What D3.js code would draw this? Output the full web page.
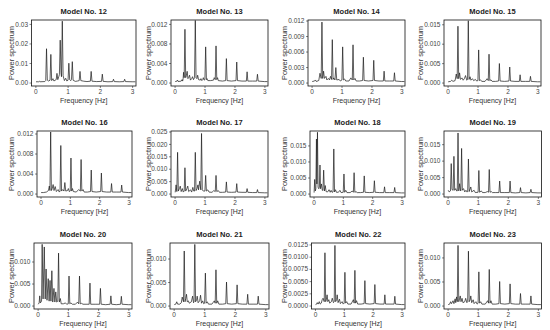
<!DOCTYPE html>
<html>
<head>
<meta charset="utf-8">
<script src="https://cdn.jsdelivr.net/npm/d3@7"></script>
<style>
  body { margin: 0; background: #fff; }
  text { font-family: "Liberation Sans", Arial, sans-serif; }
</style>
</head>
<body>
<div id="chart"></div>
<script>
const modelNames = ['Model No. 12', 'Model No. 13', 'Model No. 14', 'Model No. 15',
  'Model No. 16', 'Model No. 17', 'Model No. 18', 'Model No. 19',
  'Model No. 20', 'Model No. 21', 'Model No. 22', 'Model No. 23']
const freqTicks = [0, 1, 2, 3]

// spectra: [frequency Hz, power in units of 1e-3]
const spec12 = [[0.02,0.4],[0.10,0.4],[0.12,0.7],[0.14,0.4],[0.28,0.5],[0.30,0.6],[0.321,1.0],[0.346,17.3],[0.371,1.2],[0.41,0.8],[0.455,1.2],[0.48,14.4],[0.505,1.0],[0.545,2.0],[0.575,0.8],[0.615,1.2],[0.645,1.5],[0.67,4.7],[0.695,1.5],[0.725,3.0],[0.745,4.0],[0.77,21.7],[0.795,5.0],[0.81,3.0],[0.835,31.4],[0.86,3.5],[0.90,1.0],[0.94,2.2],[0.975,0.8],[1.013,1.2],[1.038,9.9],[1.063,1.5],[1.10,1.0],[1.12,1.5],[1.145,10.7],[1.17,1.2],[1.24,0.6],[1.31,0.8],[1.359,1.0],[1.384,5.7],[1.409,1.0],[1.50,0.7],[1.60,0.5],[1.705,0.7],[1.73,5.7],[1.755,0.7],[1.90,0.5],[2.051,0.6],[2.076,4.3],[2.101,0.6],[2.25,0.4],[2.397,0.5],[2.422,1.7],[2.447,0.5],[2.60,0.4],[2.743,0.5],[2.768,1.7],[2.793,0.5],[3.00,0.4],[3.10,0.4]]
const spec13 = [[0.02,0.2],[0.08,0.3],[0.10,0.5],[0.12,0.2],[0.22,0.3],[0.25,0.6],[0.27,0.3],[0.285,0.8],[0.30,2.1],[0.321,1.0],[0.346,10.9],[0.371,1.0],[0.395,1.5],[0.42,2.3],[0.445,0.8],[0.47,1.0],[0.50,1.5],[0.53,0.5],[0.57,0.8],[0.60,1.2],[0.63,0.6],[0.667,1.0],[0.692,12.7],[0.717,1.0],[0.745,0.8],[0.77,1.5],[0.80,0.6],[0.86,0.5],[0.88,0.8],[0.91,0.4],[0.94,0.6],[0.96,1.0],[0.99,0.5],[1.013,0.6],[1.038,7.3],[1.063,0.6],[1.085,0.8],[1.11,0.4],[1.20,0.4],[1.30,0.5],[1.325,1.0],[1.359,0.6],[1.384,7.5],[1.409,0.6],[1.435,1.0],[1.46,0.4],[1.60,0.3],[1.705,0.4],[1.73,4.9],[1.755,0.4],[1.90,0.3],[2.051,0.4],[2.076,4.2],[2.101,0.4],[2.25,0.3],[2.397,0.3],[2.422,2.2],[2.447,0.3],[2.60,0.3],[2.743,0.3],[2.768,1.7],[2.793,0.3],[3.00,0.2],[3.10,0.2]]
const spec14 = [[0.02,0.2],[0.10,0.3],[0.13,0.5],[0.16,0.2],[0.24,0.4],[0.28,1.8],[0.321,0.8],[0.346,11.7],[0.371,0.8],[0.40,2.2],[0.43,0.8],[0.48,1.2],[0.51,0.5],[0.56,0.8],[0.60,0.5],[0.63,1.2],[0.667,0.6],[0.692,8.3],[0.717,0.6],[0.74,0.9],[0.78,0.5],[0.81,2.9],[0.84,0.5],[0.92,0.6],[0.96,0.3],[1.013,0.5],[1.038,6.9],[1.063,0.5],[1.10,0.7],[1.14,0.3],[1.25,0.3],[1.31,0.9],[1.359,0.5],[1.384,7.3],[1.409,0.5],[1.45,0.8],[1.49,0.3],[1.60,0.3],[1.705,0.4],[1.73,4.9],[1.755,0.4],[1.90,0.3],[2.051,0.4],[2.076,4.3],[2.101,0.4],[2.25,0.3],[2.397,0.3],[2.422,2.2],[2.447,0.3],[2.60,0.3],[2.743,0.3],[2.768,1.9],[2.793,0.3],[3.00,0.2],[3.10,0.2]]
const spec15 = [[0.02,0.2],[0.10,0.3],[0.14,0.6],[0.18,0.3],[0.25,0.5],[0.29,2.2],[0.321,1.0],[0.346,14.5],[0.371,1.0],[0.40,2.5],[0.43,0.8],[0.48,1.2],[0.52,0.6],[0.56,1.0],[0.60,1.8],[0.64,0.6],[0.667,0.8],[0.692,15.9],[0.717,0.8],[0.75,1.5],[0.78,0.6],[0.83,1.0],[0.87,0.5],[0.93,0.8],[0.97,0.4],[1.013,0.5],[1.038,8.4],[1.063,0.5],[1.10,0.7],[1.14,0.3],[1.25,0.3],[1.32,1.0],[1.359,0.5],[1.384,7.3],[1.409,0.5],[1.45,0.7],[1.49,0.3],[1.60,0.3],[1.705,0.4],[1.73,4.9],[1.755,0.4],[1.90,0.3],[2.051,0.4],[2.076,4.0],[2.101,0.4],[2.25,0.3],[2.397,0.3],[2.422,2.0],[2.447,0.3],[2.60,0.3],[2.743,0.3],[2.768,1.6],[2.793,0.3],[3.00,0.2],[3.10,0.2]]
const spec16 = [[0.02,0.2],[0.10,0.2],[0.20,0.3],[0.27,0.6],[0.30,1.5],[0.321,0.6],[0.346,12.3],[0.371,0.6],[0.40,1.0],[0.43,1.8],[0.46,0.6],[0.50,1.4],[0.54,0.4],[0.60,0.8],[0.64,0.3],[0.667,0.5],[0.692,9.6],[0.717,0.5],[0.76,0.8],[0.80,0.5],[0.83,2.2],[0.86,0.5],[0.92,0.6],[0.95,1.0],[0.98,0.4],[1.013,0.5],[1.038,7.1],[1.063,0.5],[1.09,1.0],[1.12,0.4],[1.22,0.3],[1.30,0.8],[1.359,0.5],[1.384,6.8],[1.409,0.5],[1.45,0.8],[1.49,0.3],[1.60,0.3],[1.705,0.4],[1.73,4.7],[1.755,0.4],[1.90,0.3],[2.051,0.4],[2.076,4.1],[2.101,0.4],[2.25,0.3],[2.397,0.3],[2.422,2.0],[2.447,0.3],[2.60,0.3],[2.743,0.3],[2.768,1.7],[2.793,0.3],[3.00,0.2],[3.10,0.2]]
const spec17 = [[0.02,0.5],[0.05,3.5],[0.075,0.8],[0.10,16.6],[0.125,1.0],[0.16,2.0],[0.19,3.0],[0.22,0.8],[0.26,2.0],[0.29,0.6],[0.321,1.0],[0.346,10.4],[0.371,1.0],[0.41,2.0],[0.44,3.0],[0.47,0.8],[0.53,1.5],[0.57,0.6],[0.61,2.5],[0.64,1.0],[0.667,1.0],[0.692,16.6],[0.717,1.2],[0.75,2.0],[0.78,3.5],[0.80,1.5],[0.84,5.0],[0.875,1.5],[0.90,24.2],[0.925,1.5],[0.96,1.0],[1.013,1.0],[1.038,7.3],[1.063,1.0],[1.11,1.5],[1.15,0.6],[1.25,0.5],[1.31,1.2],[1.359,0.8],[1.384,7.3],[1.409,0.8],[1.46,1.2],[1.50,0.5],[1.60,0.5],[1.705,0.6],[1.73,4.7],[1.755,0.6],[1.90,0.5],[2.051,0.6],[2.076,4.0],[2.101,0.6],[2.25,0.5],[2.397,0.5],[2.422,2.0],[2.447,0.5],[2.60,0.4],[2.743,0.4],[2.768,1.6],[2.793,0.4],[3.00,0.3],[3.10,0.3]]
const spec18 = [[0.02,0.3],[0.04,4.4],[0.06,0.8],[0.08,1.5],[0.10,17.0],[0.115,3.0],[0.135,19.1],[0.155,2.0],[0.18,1.5],[0.20,2.0],[0.22,8.9],[0.24,1.5],[0.27,3.0],[0.30,1.0],[0.321,1.0],[0.346,7.3],[0.371,0.8],[0.40,2.5],[0.43,0.6],[0.48,0.5],[0.53,1.2],[0.57,0.4],[0.60,1.0],[0.63,0.4],[0.667,0.5],[0.692,13.9],[0.717,0.5],[0.75,1.2],[0.78,0.4],[0.85,0.4],[0.90,1.0],[0.94,0.3],[1.013,0.4],[1.038,6.1],[1.063,0.4],[1.10,1.0],[1.14,0.3],[1.25,0.3],[1.32,0.8],[1.359,0.4],[1.384,6.5],[1.409,0.4],[1.45,0.6],[1.49,0.3],[1.60,0.3],[1.705,0.4],[1.73,5.5],[1.755,0.4],[1.90,0.3],[2.051,0.4],[2.076,4.0],[2.101,0.4],[2.25,0.3],[2.397,0.3],[2.422,2.1],[2.447,0.3],[2.60,0.3],[2.743,0.3],[2.768,1.9],[2.793,0.3],[3.00,0.2],[3.10,0.2]]
const spec19 = [[0.02,1.0],[0.05,0.5],[0.095,0.8],[0.12,9.1],[0.145,1.2],[0.185,1.0],[0.21,11.3],[0.235,1.0],[0.27,1.5],[0.30,0.8],[0.321,0.8],[0.346,18.4],[0.371,0.8],[0.40,3.0],[0.43,0.8],[0.44,1.0],[0.465,13.7],[0.49,1.0],[0.53,1.5],[0.57,0.5],[0.61,1.0],[0.64,0.5],[0.667,0.6],[0.692,10.5],[0.717,0.6],[0.77,2.0],[0.80,0.5],[0.88,1.0],[0.92,0.3],[1.013,0.4],[1.038,7.0],[1.063,0.4],[1.12,0.8],[1.16,0.3],[1.25,0.3],[1.32,0.6],[1.359,0.4],[1.384,7.3],[1.409,0.4],[1.45,0.6],[1.49,0.3],[1.60,0.3],[1.705,0.3],[1.73,3.8],[1.755,0.3],[1.90,0.3],[2.051,0.3],[2.076,3.8],[2.101,0.3],[2.25,0.2],[2.397,0.3],[2.422,1.8],[2.447,0.3],[2.60,0.2],[2.743,0.3],[2.768,1.3],[2.793,0.3],[3.00,0.2],[3.10,0.2]]
const spec20 = [[0.02,0.3],[0.05,0.6],[0.07,2.2],[0.09,0.6],[0.13,1.0],[0.15,13.9],[0.18,1.5],[0.22,13.3],[0.25,1.5],[0.28,8.3],[0.31,1.2],[0.35,6.1],[0.38,1.0],[0.41,5.7],[0.44,1.0],[0.47,7.9],[0.50,0.8],[0.54,3.9],[0.57,0.8],[0.60,3.1],[0.63,0.8],[0.667,1.0],[0.692,11.9],[0.717,0.8],[0.75,1.6],[0.78,0.4],[0.85,0.4],[0.92,0.6],[0.96,0.3],[1.013,0.4],[1.038,6.7],[1.063,0.4],[1.10,0.6],[1.15,0.3],[1.25,0.3],[1.32,0.8],[1.359,0.4],[1.384,6.7],[1.409,0.4],[1.45,0.5],[1.50,0.3],[1.60,0.3],[1.705,0.3],[1.73,5.1],[1.755,0.3],[1.90,0.3],[2.051,0.3],[2.076,3.9],[2.101,0.3],[2.25,0.2],[2.397,0.3],[2.422,2.2],[2.447,0.3],[2.60,0.2],[2.743,0.3],[2.768,2.1],[2.793,0.3],[3.00,0.2],[3.10,0.2]]
const spec21 = [[0.02,0.2],[0.07,0.3],[0.10,0.8],[0.13,0.3],[0.20,0.3],[0.25,0.6],[0.28,1.8],[0.321,0.8],[0.346,11.6],[0.371,0.8],[0.395,1.5],[0.42,2.4],[0.445,0.8],[0.48,1.0],[0.51,0.5],[0.58,0.8],[0.62,2.0],[0.65,0.6],[0.667,0.8],[0.692,13.0],[0.717,0.8],[0.75,1.2],[0.77,2.0],[0.80,0.6],[0.85,1.0],[0.88,2.2],[0.91,0.5],[0.95,1.0],[0.98,0.4],[1.013,0.5],[1.038,6.9],[1.063,0.5],[1.10,0.8],[1.14,0.3],[1.25,0.3],[1.33,1.0],[1.359,0.5],[1.384,7.6],[1.409,0.5],[1.44,1.0],[1.48,0.3],[1.60,0.3],[1.705,0.4],[1.73,5.0],[1.755,0.4],[1.90,0.3],[2.051,0.4],[2.076,4.4],[2.101,0.4],[2.25,0.3],[2.397,0.3],[2.422,2.4],[2.447,0.3],[2.60,0.3],[2.743,0.3],[2.768,2.0],[2.793,0.3],[3.00,0.2],[3.10,0.2]]
const spec22 = [[0.02,0.2],[0.06,0.3],[0.08,0.6],[0.11,0.3],[0.15,0.8],[0.18,0.3],[0.22,0.5],[0.25,1.2],[0.28,1.5],[0.321,0.8],[0.346,10.8],[0.371,0.8],[0.395,1.2],[0.42,2.2],[0.445,0.8],[0.48,1.2],[0.51,0.5],[0.57,0.8],[0.60,1.5],[0.64,0.6],[0.667,0.8],[0.692,12.3],[0.717,0.8],[0.75,1.2],[0.77,2.2],[0.80,0.6],[0.85,1.3],[0.88,0.4],[0.94,0.8],[0.98,0.3],[1.013,0.5],[1.038,6.8],[1.063,0.5],[1.10,0.8],[1.14,0.3],[1.25,0.3],[1.33,1.2],[1.359,0.5],[1.384,7.2],[1.409,0.5],[1.44,1.0],[1.48,0.3],[1.60,0.3],[1.705,0.4],[1.73,5.1],[1.755,0.4],[1.90,0.3],[2.051,0.4],[2.076,4.3],[2.101,0.4],[2.25,0.3],[2.397,0.3],[2.422,2.2],[2.447,0.3],[2.60,0.3],[2.743,0.3],[2.768,1.9],[2.793,0.3],[3.00,0.2],[3.10,0.2]]
const spec23 = [[0.02,0.2],[0.07,0.3],[0.10,0.8],[0.13,0.4],[0.18,1.0],[0.21,0.4],[0.25,1.4],[0.27,0.6],[0.30,1.8],[0.321,0.8],[0.346,12.5],[0.371,0.8],[0.395,1.4],[0.42,2.0],[0.445,0.8],[0.48,1.5],[0.51,0.6],[0.57,0.8],[0.60,1.5],[0.64,0.6],[0.667,0.8],[0.692,11.3],[0.717,0.8],[0.75,1.2],[0.77,2.0],[0.80,0.6],[0.85,1.2],[0.88,0.4],[0.94,0.8],[0.98,0.3],[1.013,0.5],[1.038,7.0],[1.063,0.5],[1.10,0.8],[1.14,0.3],[1.25,0.3],[1.33,1.0],[1.359,0.5],[1.384,7.5],[1.409,0.5],[1.44,1.0],[1.48,0.3],[1.60,0.3],[1.705,0.4],[1.73,5.0],[1.755,0.4],[1.90,0.3],[2.051,0.4],[2.076,4.5],[2.101,0.4],[2.25,0.3],[2.397,0.3],[2.422,2.5],[2.447,0.3],[2.60,0.3],[2.743,0.3],[2.768,2.0],[2.793,0.3],[3.00,0.2],[3.10,0.2]]
const spectra = [spec12, spec13, spec14, spec15, spec16, spec17, spec18, spec19, spec20, spec21, spec22, spec23]

// y tick values (1e-3 units), decimals of the printed label, top of each y axis
const yTicks = [[0,10,20,30],[0,4,8,12],[0,3,6,9,12],[0,5,10,15],[0,4,8,12],[0,5,10,15,20,25],
  [0,5,10,15],[0,5,10,15],[0,5,10],[0,5,10],[0,2.5,5,7.5,10,12.5],[0,5,10]]
const yDigits = [2,3,3,3,3,3,3,3,3,3,4,3]
const yTop = [32,12.8,12.1,16.1,12.5,25.2,19.5,19.0,14.2,13.3,12.8,13.0]

const width = 550
const height = 330
const rowTop = [20, 131, 243]
const boxH = 66
const boxX = [[31.5,136],[171,268],[308,405],[444,541],
  [37,132],[171,268],[310,405],[444,541.5],
  [34,132],[170,269],[311.5,405],[444,541.5]]
const labelX = [11, 148, 284, 420]

const svg = d3.select('#chart')
  .append('svg')
  .attr('width', width)
  .attr('height', height)

spectra.forEach((data, i) => {
  const row = Math.floor(i / 4)
  const col = i % 4
  const top = rowTop[row]
  const bottom = top + boxH
  const [left, right] = boxX[i]

  const x = d3.scaleLinear().domain([-0.12, 3.12]).range([left, right])
  const y = d3.scaleLinear().domain([-0.055 * yTop[i], yTop[i]]).range([bottom, top])

  const g = svg.append('g')

  g.append('clipPath').attr('id', 'clip' + i)
    .append('rect')
    .attr('x', left).attr('y', top)
    .attr('width', right - left).attr('height', boxH)

  const line = d3.line().x(d => x(d[0])).y(d => y(d[1]))
  g.append('path')
    .datum(data)
    .attr('clip-path', 'url(#clip' + i + ')')
    .attr('d', line)
    .attr('fill', 'none')
    .attr('stroke', '#1a1a1a')
    .attr('stroke-width', 0.7)
    .attr('stroke-linejoin', 'round')

  const fmt = d3.format('.' + yDigits[i] + 'f')
  const xAxis = d3.axisBottom(x).tickValues(freqTicks).tickSize(2).tickPadding(1).tickFormat(d3.format('d'))
  const yAxis = d3.axisLeft(y).tickValues(yTicks[i]).tickSize(2).tickPadding(1.5).tickFormat(d => fmt(d / 1000))

  const gx = g.append('g').attr('transform', 'translate(0,' + bottom + ')').call(xAxis)
  const gy = g.append('g').attr('transform', 'translate(' + left + ',0)').call(yAxis)
  ;[gx, gy].forEach(a => {
    a.select('.domain').remove()
    a.selectAll('line').attr('stroke', '#333').attr('stroke-width', 0.6)
    a.selectAll('text').attr('fill', '#444').style('font-size', '6.5px')
      .style('font-family', '"Liberation Sans", Arial, sans-serif')
  })

  g.append('rect')
    .attr('x', left).attr('y', top)
    .attr('width', right - left).attr('height', boxH)
    .attr('fill', 'none')
    .attr('stroke', '#111')
    .attr('stroke-width', 0.8)

  g.append('text')
    .attr('x', (left + right) / 2)
    .attr('y', top - 6)
    .attr('text-anchor', 'middle')
    .style('font-size', '7.5px')
    .style('font-weight', 'bold')
    .attr('fill', '#222')
    .text(modelNames[i])

  g.append('text')
    .attr('x', (left + right) / 2)
    .attr('y', bottom + 16.5)
    .attr('text-anchor', 'middle')
    .style('font-size', '7px')
    .attr('fill', '#333')
    .text('Frequency [Hz]')

  g.append('text')
    .attr('transform', 'translate(' + (labelX[col] + 2.5) + ',' + (top + boxH / 2) + ') rotate(-90)')
    .attr('text-anchor', 'middle')
    .style('font-size', '7.5px')
    .attr('fill', '#333')
    .text('Power spectrum')
})
</script>
</body>
</html>
